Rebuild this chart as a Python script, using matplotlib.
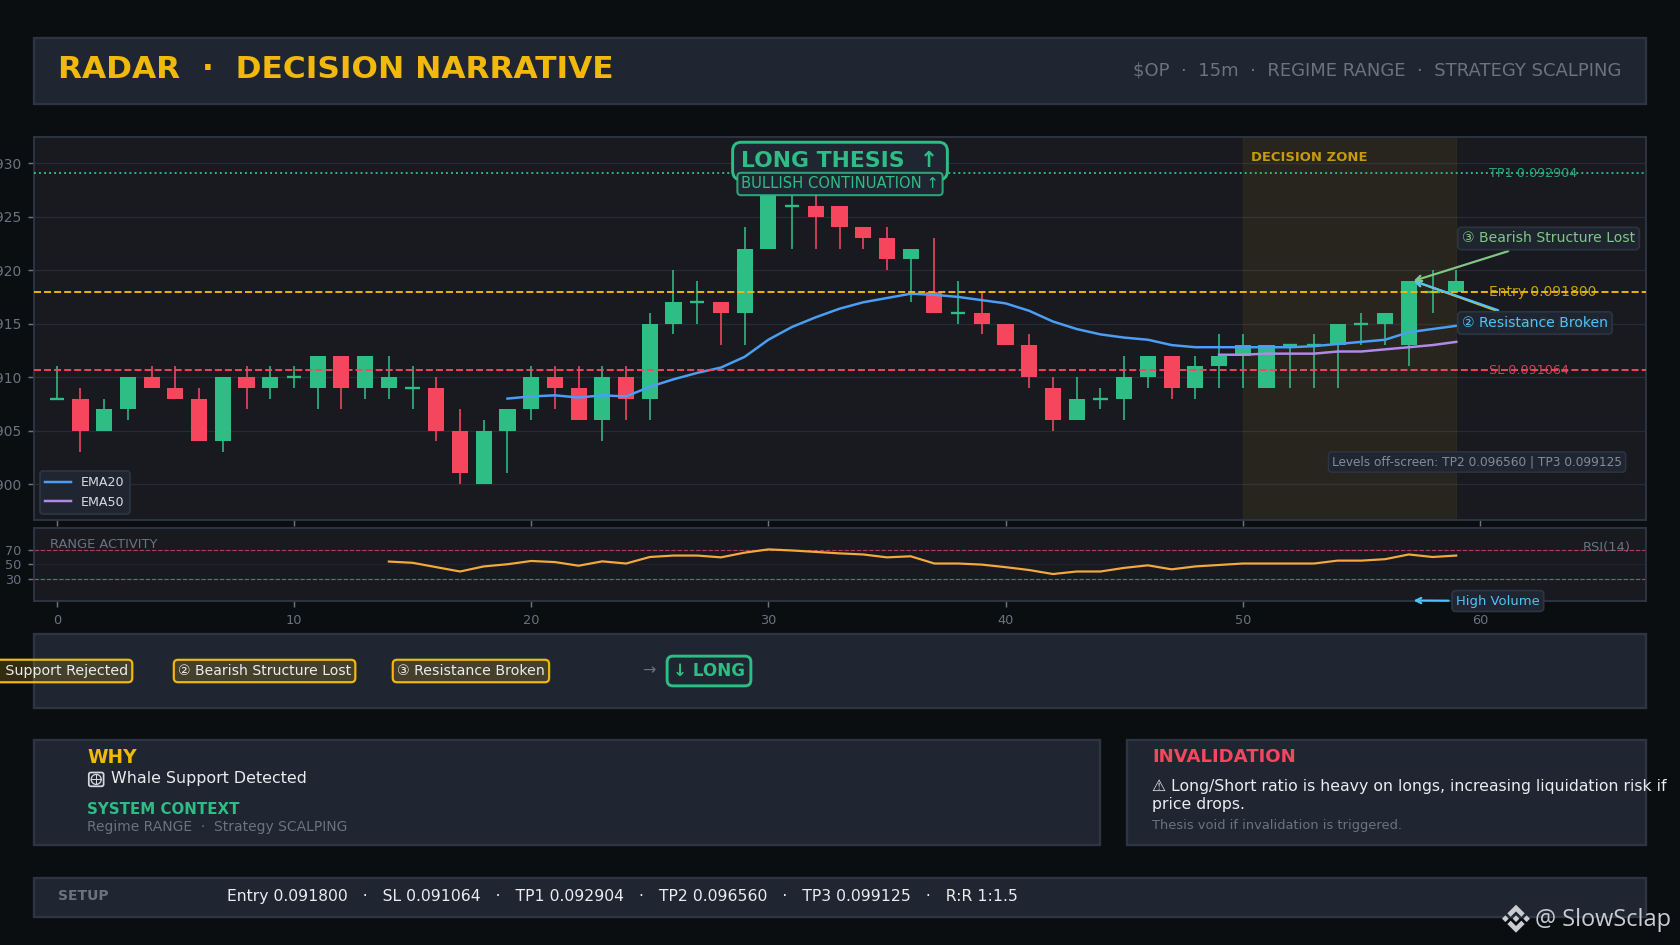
import numpy as np
import matplotlib
matplotlib.use("Agg")
import matplotlib.pyplot as plt
from matplotlib.patches import Rectangle, Polygon, Circle, FancyBboxPatch
from matplotlib.lines import Line2D
from matplotlib.transforms import Affine2D

W, H = 1680, 945
BG = "#0B0E11"; PANEL = "#1F2631"; EDGE = "#2C3541"; AXBG = "#181A20"
GOLD = "#F0B90B"; RED = "#F6465D"; GREEN = "#2EBD85"; GRAY = "#6B7280"
CYAN = "#4FC3F7"; LGREEN = "#81C784"; BLUE = "#4A9EF5"; PURPLE = "#B388EB"; ORANGE = "#F5A93A"
TEXT = "#EAECEF"

# ---- data -------------------------------------------------------------
opens = [.0908,.0908,.0905,.0907,.0910,.0909,.0908,.0904,.0910,.0909,.0910,.0909,.0912,.0909,.0909,.0909,.0909,.0905,.0900,.0905,
         .0907,.0910,.0909,.0906,.0910,.0908,.0915,.0917,.0917,.0916,.0922,.0926,.0926,.0926,.0924,.0923,.0921,.0918,.0916,.0916,
         .0915,.0913,.0909,.0906,.0908,.0908,.0910,.0912,.0909,.0911,.0912,.0909,.0913,.0913,.0913,.0915,.0915,.0913,.0918,.0918]
highs = [.0911,.0909,.0908,.0910,.0911,.0911,.0909,.0910,.0911,.0911,.0911,.0912,.0912,.0912,.0912,.0911,.0910,.0907,.0906,.0907,
         .0911,.0911,.0911,.0911,.0911,.0916,.0920,.0919,.0917,.0924,.0929,.0928,.0927,.0926,.0924,.0924,.0922,.0923,.0919,.0918,
         .0915,.0914,.0910,.0910,.0909,.0912,.0912,.0912,.0912,.0914,.0914,.0913,.0913,.0914,.0915,.0916,.0916,.0919,.0920,.0920]
lows = [.0908,.0903,.0905,.0906,.0909,.0908,.0904,.0903,.0907,.0908,.0909,.0907,.0907,.0908,.0908,.0907,.0904,.0900,.0900,.0901,
        .0906,.0907,.0906,.0904,.0906,.0906,.0914,.0915,.0913,.0913,.0922,.0922,.0922,.0922,.0922,.0920,.0917,.0916,.0915,.0914,
        .0913,.0909,.0905,.0906,.0907,.0906,.0909,.0908,.0908,.0909,.0909,.0909,.0909,.0909,.0909,.0913,.0913,.0911,.0916,.0918]
closes = [.0908,.0905,.0907,.0910,.0909,.0908,.0904,.0910,.0909,.0910,.0910,.0912,.0909,.0912,.0910,.0909,.0905,.0901,.0905,.0907,
          .0910,.0909,.0906,.0910,.0908,.0915,.0917,.0917,.0916,.0922,.0928,.0926,.0925,.0924,.0923,.0921,.0922,.0916,.0916,.0915,
          .0913,.0910,.0906,.0908,.0908,.0910,.0912,.0909,.0911,.0912,.0913,.0913,.0913,.0913,.0915,.0915,.0916,.0919,.0918,.0919]
ema20_start = 19
ema20 = [.09080,.09082,.09083,.09081,.09083,.09082,.09091,.09098,.09104,.09109,.09119,.09135,.09147,.09156,.09164,.09170,.09174,
         .09178,.09177,.09175,.09172,.09169,.09162,.09152,.09145,.09140,.09137,.09135,.09130,.09128,.09128,.09128,.09128,.09128,
         .09129,.09131,.09133,.09135,.09142,.09145,.09148]
ema50_start = 49
ema50 = [.09121,.09121,.09122,.09122,.09122,.09124,.09124,.09126,.09128,.09130,.09133]
rsi_start = 14
rsi = [53.7,52,46,40,47,50,54.5,53,48,54,51,60,62,62,59.5,66,70.5,69,67,65,63.5,59.5,61,51,51,49.5,46,42,36.5,40,40,45,48.5,43,47,49,
       51,51,51,51,55,55,57,63.5,60,62]
levels = {"TP1": 0.092904, "Entry": 0.091800, "SL": 0.091064}
price_ticks = [.0900,.0905,.0910,.0915,.0920,.0925,.0930]
x_ticks = [0,10,20,30,40,50,60]
rsi_ticks = [30,50,70]
zone = (50, 59)

def P(x, y):
    return x / W, 1 - y / H

fig = plt.figure(figsize=(16, 9), dpi=105, facecolor=BG)
PX = Affine2D().scale(1, -1).translate(0, H)  # reference pixels, origin top-left

def panel(x0, y0, x1, y1):
    fig.add_artist(Rectangle(P(x0, y1), (x1-x0)/W, (y1-y0)/H, transform=fig.transFigure,
                             fc=PANEL, ec=EDGE, lw=1.6, zorder=-5))

def T(x, y, s, **kw):
    kw.setdefault("va", "center"); kw.setdefault("ha", "left"); kw.setdefault("zorder", 5)
    return fig.text(*P(x, y), s, **kw)

panel(34, 38, 1645.5, 103.5)
panel(34, 634, 1645.5, 707.5)
panel(34, 740, 1099.5, 845)
panel(1127, 740, 1645.5, 845)
panel(34, 878, 1645.5, 917)

L, R = 34, 1646
ax = fig.add_axes([L/W, 1-520/H, (R-L)/W, (520-137)/H], facecolor=AXBG)
ax2 = fig.add_axes([L/W, 1-600.5/H, (R-L)/W, (600.5-528)/H], facecolor=AXBG)
ax.set_xlim(-0.96, 67); ax2.set_xlim(-0.96, 67)
ax.set_ylim(0.089665, 0.093245); ax2.set_ylim(0, 100)
for a in (ax, ax2):
    for s in a.spines.values():
        s.set_color(EDGE); s.set_linewidth(1.3)
    a.set_xticks(x_ticks)
ax.set_yticks(price_ticks); ax.set_yticklabels([f"{v:.4f}" for v in price_ticks])
ax.grid(axis="y", color="#272B33", lw=0.9); ax.set_axisbelow(True)
ax.tick_params(axis="both", colors=GRAY, labelsize=9.5, length=4, width=1, labelbottom=False)
ax.tick_params(axis="y", pad=4.6)
ax2.set_yticks(rsi_ticks)
ax2.tick_params(axis="both", colors=GRAY, labelsize=8.8, length=4, width=1)
ax2.tick_params(axis="y", pad=4.6)
ax2.tick_params(axis="x", pad=5.5)
ax2.grid(axis="y", color="#222630", lw=0.6)

# candles
for i, (o, h, l, c) in enumerate(zip(opens, highs, lows, closes)):
    col = GREEN if c >= o else RED
    ax.vlines(i, l, h, color=col, lw=1.3, alpha=0.85, zorder=2)
    if abs(c-o) < 1e-7:
        ax.hlines(o, i-0.3, i+0.3, color=col, lw=1.6, zorder=3)
    else:
        ax.bar(i, abs(c-o), bottom=min(o, c), width=0.68, color=col, zorder=3)

ax.axvspan(zone[0], zone[1], facecolor=GOLD, alpha=0.07, edgecolor=GOLD, lw=0.8, zorder=1)
ax.text(zone[0]+0.35, 0.09296+0.00009, "DECISION ZONE", color=GOLD, alpha=0.8, fontsize=9, fontweight="bold", va="center", zorder=6)

ax.plot(np.arange(ema20_start, ema20_start+len(ema20)), ema20, color=BLUE, lw=1.7, zorder=4, label="EMA20")
ax.plot(np.arange(ema50_start, ema50_start+len(ema50)), ema50, color=PURPLE, lw=1.7, zorder=4, label="EMA50")

ax.axhline(levels["TP1"], color=GREEN, ls=":", lw=1.3, zorder=4)
ax.axhline(levels["Entry"], color=GOLD, ls="--", lw=1.3, zorder=4)
ax.axhline(levels["SL"], color=RED, ls="--", lw=1.3, zorder=4)
LX = 60.4
ax.text(LX, levels["TP1"], f"TP1 {levels['TP1']:.6f}", color=GREEN, alpha=.85, fontsize=8.75, va="center", zorder=5)
ax.text(LX, levels["Entry"], f"Entry {levels['Entry']:.6f}", color=GOLD, alpha=.85, fontsize=9.5, va="center", zorder=5)
ax.text(LX, levels["SL"], f"SL {levels['SL']:.6f}", color=RED, alpha=.85, fontsize=8.75, va="center", zorder=5)

leg = ax.legend(loc="lower left", fontsize=8.7, facecolor=PANEL, edgecolor=EDGE, framealpha=1, labelcolor="#D8DCE2")
leg.get_frame().set_linewidth(1.2)

# annotations
tip = (57.2, 0.0919)
box = dict(boxstyle="round,pad=0.3", fc=PANEL, ec=EDGE, lw=1.2, alpha=0.93)
fx, fy = P(1462, 323)
ax.annotate("① Support Rejected", xy=tip, xytext=(fx, fy), textcoords="figure fraction", color=GOLD, fontsize=9.6, va="center",
            bbox=box, zorder=7, annotation_clip=False,
            arrowprops=dict(arrowstyle="->", color=GOLD, lw=1.5, shrinkB=0))
ax.annotate("② Resistance Broken", xy=tip, xytext=(fx, fy), textcoords="figure fraction", color=CYAN, fontsize=9.6, va="center",
            bbox=box, zorder=7, annotation_clip=False,
            arrowprops=dict(arrowstyle="->", color=CYAN, lw=1.5, shrinkB=0))
fx, fy = P(1462, 238.5)
ax.annotate("③ Bearish Structure Lost", xy=tip, xytext=(fx, fy), textcoords="figure fraction", color=LGREEN, fontsize=9.6, va="center",
            bbox=box, zorder=7, annotation_clip=False,
            arrowprops=dict(arrowstyle="->", color=LGREEN, lw=1.5, shrinkB=0))

T(1332, 462, "Levels off-screen: TP2 0.096560 | TP3 0.099125", color="#858B96", fontsize=8.3,
  bbox=dict(boxstyle="round,pad=0.3", fc=PANEL, ec=EDGE, lw=1))

# thesis badges
T(840, 161, "LONG THESIS  ↑", color=GREEN, fontsize=15, fontweight="bold", ha="center",
  bbox=dict(boxstyle="round,pad=0.4", fc=PANEL, ec=GREEN, lw=2))
T(840, 184, "BULLISH CONTINUATION ↑", color=GREEN, fontsize=10.1, ha="center", zorder=6,
  bbox=dict(boxstyle="round,pad=0.25", fc=PANEL, ec=(0.18, 0.74, 0.52, 0.85), lw=1.4))

# RSI pane
ax2.plot(np.arange(rsi_start, rsi_start+len(rsi)), rsi, color=ORANGE, lw=1.5, zorder=3)
ax2.axhline(70, color=RED, ls="--", lw=0.8, alpha=.7)
ax2.axhline(30, color=GREEN, ls="--", lw=0.8, alpha=.7)
T(50, 544, "RANGE ACTIVITY", color=GRAY, fontsize=8.9)
T(1631, 548, "RSI(14)", color=GRAY, fontsize=8.9, ha="right")
fx, fy = P(1456, 601)
ax2.annotate("High Volume", xy=(57.2, 0), xytext=(fx, fy), textcoords="figure fraction", color=CYAN, fontsize=9, va="center",
             bbox=dict(boxstyle="round,pad=0.3", fc=PANEL, ec=EDGE, lw=1.2), zorder=7, annotation_clip=False,
             arrowprops=dict(arrowstyle="->", color=CYAN, lw=1.5, shrinkB=0))

# header
T(58.5, 70, "RADAR  ·  DECISION NARRATIVE", color=GOLD, fontsize=21.4, fontweight="bold")
T(1621, 71, r"\$OP  ·  15m  ·  REGIME RANGE  ·  STRATEGY SCALPING", color=GRAY, fontsize=12.35, ha="right")

# chain strip
chip = dict(boxstyle="round,pad=0.3", fc=(0.94, 0.725, 0.043, 0.18), ec=GOLD, lw=1.5)
T(128, 671, "① Support Rejected", color=TEXT, fontsize=9.75, ha="right", bbox=chip)
T(178, 671, "② Bearish Structure Lost", color=TEXT, fontsize=9.6, bbox=chip)
T(397, 671, "③ Resistance Broken", color=TEXT, fontsize=9.7, bbox=chip)
T(642, 671, "→", color=GRAY, fontsize=11)
T(673, 671, "↓ LONG", color=GREEN, fontsize=11.5, fontweight="bold",
  bbox=dict(boxstyle="round,pad=0.35", fc=PANEL, ec=GREEN, lw=2))

# why panel
T(87, 757.5, "WHY", color=GOLD, fontsize=12.8, fontweight="bold")
ICON = "#D4D7DC"
fig.add_artist(FancyBboxPatch((88.8, 772.5), 14.8, 13.8, boxstyle="round,pad=0,rounding_size=2", transform=PX, fc="none", ec=ICON, lw=1.2, zorder=5))
fig.add_artist(Circle((96.2, 779.4), 5, transform=PX, fc="none", ec=ICON, lw=0.9, zorder=5))
fig.add_artist(Line2D([91.2, 101.2], [779.4, 779.4], transform=PX, color=ICON, lw=0.7, zorder=5))
fig.add_artist(Line2D([96.2, 96.2], [774.4, 784.4], transform=PX, color=ICON, lw=0.7, zorder=5))
T(111, 779, "Whale Support Detected", color=TEXT, fontsize=10.9)
T(87, 809, "SYSTEM CONTEXT", color=GREEN, fontsize=10.3, fontweight="bold")
T(87, 826.5, "Regime RANGE  ·  Strategy SCALPING", color=GRAY, fontsize=9.5)

# invalidation panel
T(1152.5, 757.5, "INVALIDATION", color=RED, fontsize=12.4, fontweight="bold")
T(1152.5, 787, "⚠ Long/Short ratio is heavy on longs, increasing liquidation risk if", color=TEXT, fontsize=10.78)
T(1152.5, 805, "price drops.", color=TEXT, fontsize=10.78)
T(1152.5, 825.5, "Thesis void if invalidation is triggered.", color=GRAY, fontsize=8.9)

# setup
T(58, 896, "SETUP", color=GRAY, fontsize=9.5, fontweight="bold")
T(227, 896, "Entry 0.091800   ·   SL 0.091064   ·   TP1 0.092904   ·   TP2 0.096560   ·   TP3 0.099125   ·   R:R 1:1.5", color=TEXT, fontsize=10.7)

# watermark
WM = "#C9CCD1"
cx, cy, u = 1516, 918.7, 14
def logo(pts):
    fig.add_artist(Polygon([P(cx+a*u, cy+b*u) for a, b in pts], closed=True, transform=fig.transFigure, fc=WM, ec="none", zorder=6))
logo([(0,-.24),(.24,0),(0,.24),(-.24,0)])
logo([(-1,0),(-.76,-.24),(-.52,0),(-.76,.24)])
logo([(1,0),(.76,-.24),(.52,0),(.76,.24)])
logo([(0,-1),(.62,-.38),(.38,-.14),(0,-.52),(-.38,-.14),(-.62,-.38)])
logo([(0,1),(.62,.38),(.38,.14),(0,.52),(-.38,.14),(-.62,.38)])
T(1535, 920, "@ SlowSclap", color=WM, fontsize=16.1, family="Open Sans")

fig.savefig("out.png", dpi=105, facecolor=BG)
